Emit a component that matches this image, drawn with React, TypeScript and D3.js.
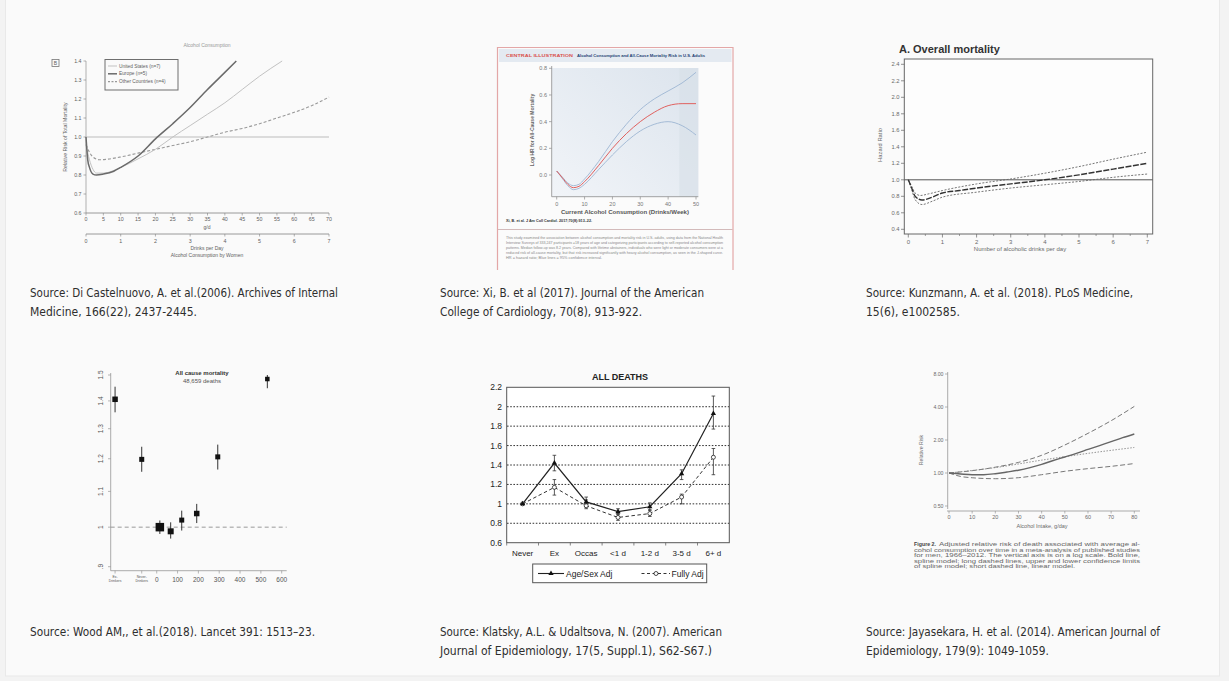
import React from 'react';
import * as d3 from 'd3';

type P = [number, number];

// ---- Di Castelnuovo et al. 2006 (g/d vs relative risk, women)
const dcUS: P[] = [[0, 0.96], [1, 0.88], [2, 0.83], [3, 0.81], [5, 0.81], [10, 0.84], [15, 0.885], [20, 0.935], [25, 1.0], [30, 1.06], [35, 1.12], [40, 1.18], [45, 1.25], [50, 1.32], [56.5, 1.4]];
const dcEurope: P[] = [[0, 1.0], [0.5, 0.88], [1, 0.84], [2, 0.805], [3, 0.8], [5, 0.805], [8, 0.82], [10, 0.84], [15, 0.9], [20, 0.99], [25, 1.07], [30, 1.155], [35, 1.25], [40, 1.34], [43.3, 1.4]];
const dcOther: P[] = [[0, 0.96], [1, 0.92], [2, 0.895], [4, 0.88], [6, 0.883], [10, 0.895], [15, 0.915], [20, 0.935], [25, 0.955], [30, 0.975], [35, 1.0], [40, 1.025], [45, 1.045], [50, 1.07], [55, 1.1], [60, 1.13], [65, 1.165], [70, 1.21]];
const dcYTicks = [0.6, 0.7, 0.8, 0.9, 1.0, 1.1, 1.2, 1.3, 1.4];
const dcGTicks = [0, 5, 10, 15, 20, 25, 30, 35, 40, 45, 50, 55, 60, 65, 70];
const dcDrinkTicks = [0, 1, 2, 3, 4, 5, 6, 7];
const dcLegend = ['United States (n=7)', 'Europe (n=5)', 'Other Countries (n=4)'];

// ---- Xi et al. 2017 (drinks/week vs log HR)
const xiCenter: P[] = [[0, 0.03], [2, -0.02], [4, -0.07], [6, -0.095], [8, -0.085], [10, -0.05], [15, 0.07], [20, 0.2], [25, 0.31], [30, 0.4], [35, 0.47], [40, 0.52], [45, 0.535], [50, 0.535]];
const xiUpper: P[] = [[0, 0.03], [2, -0.015], [4, -0.06], [6, -0.08], [8, -0.07], [10, -0.03], [15, 0.1], [20, 0.25], [25, 0.38], [30, 0.49], [35, 0.57], [40, 0.63], [45, 0.69], [50, 0.77]];
const xiLower: P[] = [[0, 0.03], [2, -0.025], [4, -0.08], [6, -0.11], [8, -0.1], [10, -0.07], [15, 0.04], [20, 0.15], [25, 0.25], [30, 0.33], [35, 0.38], [40, 0.4], [45, 0.37], [50, 0.3]];
const xiYTicks = [0.0, 0.2, 0.4, 0.6, 0.8];
const xiXTicks = [0, 10, 20, 30, 40, 50];
const xiShadeFrom = 44;
const xiParagraph = [
  'This study examined the association between alcohol consumption and mortality risk in U.S. adults, using data from the National Health',
  'Interview Surveys of 333,247 participants \u226518 years of age and categorizing participants according to self-reported alcohol consumption',
  'patterns. Median follow-up was 8.2 years. Compared with lifetime abstainers, individuals who were light or moderate consumers were at a',
  'reduced risk of all-cause mortality, but that risk increased significantly with heavy alcohol consumption, as seen in the J-shaped curve.',
  'HR = hazard ratio; Blue lines = 95% confidence interval.',
];

// ---- Kunzmann et al. 2018 (drinks/day vs hazard ratio)
const kzCenter: P[] = [[0, 1.0], [0.1, 0.9], [0.2, 0.8], [0.4, 0.755], [0.7, 0.79], [1, 0.84], [1.5, 0.87], [2, 0.9], [3, 0.95], [4, 1.0], [5, 1.06], [6, 1.13], [7, 1.2]];
const kzUpper: P[] = [[0, 1.0], [0.1, 0.92], [0.2, 0.84], [0.35, 0.81], [0.6, 0.83], [1, 0.87], [2, 0.95], [3, 1.01], [4, 1.08], [5, 1.16], [6, 1.25], [7, 1.335]];
const kzLower: P[] = [[0, 1.0], [0.1, 0.88], [0.2, 0.76], [0.4, 0.7], [0.7, 0.74], [1, 0.79], [2, 0.85], [3, 0.9], [4, 0.94], [5, 0.98], [6, 1.03], [7, 1.07]];
const kzYTicks = [0.4, 0.6, 0.8, 1.0, 1.2, 1.4, 1.6, 1.8, 2.0, 2.2, 2.4];
const kzXTicks = [0, 1, 2, 3, 4, 5, 6, 7];

// ---- Wood et al. 2018 (g/week vs HR, log scale)
const woodLabels = ['Ex', 'Never', '15', '67', '120', '192', '293', '531'];
const woodX = [-200, -72, 15, 67, 120, 192, 293, 531];
const woodHR = [1.406, 1.198, 1.0, 0.989, 1.019, 1.037, 1.206, 1.484];
const woodLo = [1.358, 1.159, 0.982, 0.97, 0.991, 1.011, 1.166, 1.448];
const woodHi = [1.454, 1.239, 1.018, 1.013, 1.045, 1.064, 1.246, 1.5];
const woodWeight = [5.5, 5, 8.5, 6, 5, 5.5, 5, 4.5];
const woodYTicks = [0.9, 1, 1.1, 1.2, 1.3, 1.4, 1.5];
const woodXTicks = [0, 100, 200, 300, 400, 500, 600];

// ---- Klatsky & Udaltsova 2007 (category vs RR)
const klCats = ['Never', 'Ex', 'Occas', '<1 d', '1-2 d', '3-5 d', '6+ d'];
const klAge = [1.0, 1.42, 1.02, 0.92, 0.97, 1.31, 1.93];
const klAgeLo = [1.0, 1.34, 0.97, 0.89, 0.93, 1.25, 1.77];
const klAgeHi = [1.0, 1.5, 1.07, 0.95, 1.01, 1.35, 2.11];
const klFull = [1.0, 1.17, 0.98, 0.86, 0.9, 1.07, 1.48];
const klFullLo = [1.0, 1.09, 0.95, 0.83, 0.87, 1.0, 1.3];
const klFullHi = [1.0, 1.25, 1.04, 0.9, 0.94, 1.1, 1.57];
const klYTicks = [0.6, 0.8, 1, 1.2, 1.4, 1.6, 1.8, 2, 2.2];
const klGrid = [0.8, 1, 1.2, 1.4, 1.6, 1.8, 2];

// ---- Jayasekara et al. 2014 (g/day vs RR, log scale)
const jaSpline: P[] = [[0, 1], [5, 0.98], [10, 0.965], [15, 0.965], [20, 0.985], [25, 1.02], [30, 1.06], [35, 1.12], [40, 1.2], [45, 1.3], [50, 1.4], [55, 1.51], [60, 1.64], [65, 1.78], [70, 1.93], [75, 2.1], [80, 2.27]];
const jaUpper: P[] = [[0, 1], [10, 1.05], [20, 1.13], [30, 1.25], [40, 1.45], [50, 1.8], [60, 2.3], [70, 3.0], [80, 4.05]];
const jaLower: P[] = [[0, 1], [5, 0.93], [10, 0.905], [20, 0.887], [30, 0.906], [40, 0.965], [50, 1.036], [60, 1.096], [70, 1.15], [80, 1.22]];
const jaLinear: P[] = [[0, 1], [20, 1.12], [40, 1.31], [60, 1.51], [80, 1.71]];
const jaYTicks = [0.5, 1, 2, 4, 8];
const jaXTicks = [0, 10, 20, 30, 40, 50, 60, 70, 80];
const jaCaption = [
  'Adjusted relative risk of death associated with average al-',
  'cohol consumption over time in a meta-analysis of published studies',
  'for men, 1966\u20132012. The vertical axis is on a log scale. Bold line,',
  'spline model; long dashed lines, upper and lower confidence limits',
  'of spline model; short dashed line, linear model.',
];

// ---- source notes
const sourceTop = [
  ['Source: Di Castelnuovo, A. et al.(2006). Archives of Internal', 'Medicine, 166(22), 2437-2445.'],
  ['Source: Xi, B. et al (2017). Journal of the American', 'College of Cardiology, 70(8), 913-922.'],
  ['Source: Kunzmann, A. et al. (2018). PLoS Medicine,', '15(6), e1002585.'],
];
const sourceBottom = [
  ['Source: Wood AM,, et al.(2018). Lancet 391: 1513\u201323.'],
  ['Source: Klatsky, A.L. & Udaltsova, N. (2007).  American', 'Journal of Epidemiology, 17(5, Suppl.1), S62-S67.)'],
  ['Source: Jayasekara, H. et al. (2014). American Journal of', 'Epidemiology, 179(9): 1049-1059.'],
];

const SANS = "'Liberation Sans', Arial, Helvetica, sans-serif";
const NARROW = "'Liberation Sans Narrow', 'DejaVu Sans Condensed', 'Liberation Sans', sans-serif";

const path = (pts: P[], x: (v: number) => number, y: (v: number) => number, curve: d3.CurveFactory = d3.curveMonotoneX) =>
  d3.line<P>().x(d => x(d[0])).y(d => y(d[1])).curve(curve)(pts) || '';

function DiCastelnuovo() {
  const x = d3.scaleLinear().domain([0, 70]).range([86, 329]);
  const y = d3.scaleLinear().domain([0.6, 1.4]).range([213, 61]);
  const ax = '#808080';
  return (
    <g fontFamily={SANS} fill="#5e5e5e">
      <text x={207} y={47} fontSize={5} textAnchor="middle" fill="#999">Alcohol Consumption</text>
      <rect x={52} y={59.5} width={7} height={7} fill="none" stroke="#777" strokeWidth={0.8} />
      <text x={55.5} y={64.8} fontSize={5} textAnchor="middle">B</text>
      <line x1={86} x2={86} y1={61} y2={213} stroke={ax} strokeWidth={0.6} />
      <line x1={86} x2={329} y1={213} y2={213} stroke={ax} strokeWidth={0.8} />
      {dcYTicks.map(t => (
        <g key={t}>
          <line x1={83.5} x2={86} y1={y(t)} y2={y(t)} stroke={ax} strokeWidth={0.6} />
          <text x={81.5} y={y(t) + 1.8} fontSize={5.3} textAnchor="end">{t.toFixed(1)}</text>
        </g>
      ))}
      {dcGTicks.map(t => (
        <g key={t}>
          <line x1={x(t)} x2={x(t)} y1={213} y2={215.5} stroke={ax} strokeWidth={0.6} />
          <text x={x(t)} y={220.5} fontSize={5.3} textAnchor="middle">{t}</text>
        </g>
      ))}
      <text x={207} y={228.5} fontSize={5} textAnchor="middle">g/d</text>
      <line x1={86} x2={329} y1={234} y2={234} stroke={ax} strokeWidth={0.8} />
      {dcDrinkTicks.map(t => (
        <g key={t}>
          <line x1={x(t * 10)} x2={x(t * 10)} y1={234} y2={236.5} stroke={ax} strokeWidth={0.6} />
          <text x={x(t * 10)} y={242.5} fontSize={5.3} textAnchor="middle">{t}</text>
        </g>
      ))}
      <text x={207} y={250} fontSize={5} textAnchor="middle">Drinks per Day</text>
      <text x={207} y={257} fontSize={5} textAnchor="middle">Alcohol Consumption by Women</text>
      <text transform="translate(67,137) rotate(-90)" fontSize={5.2} textAnchor="middle">Relative Risk of Total Mortality</text>
      <line x1={86} x2={329} y1={y(1)} y2={y(1)} stroke="#b5b5b5" strokeWidth={0.9} />
      <path d={path(dcOther, x, y)} fill="none" stroke="#999" strokeWidth={1.1} strokeDasharray="3,2" />
      <path d={path(dcUS, x, y)} fill="none" stroke="#c2c2c2" strokeWidth={1} />
      <path d={path(dcEurope, x, y)} fill="none" stroke="#6a6a6a" strokeWidth={1.5} />
      <rect x={105} y={59.5} width={73} height={30.5} fill="#fafafa" stroke="#6e6e6e" strokeWidth={1} />
      {dcLegend.map((l, i) => (
        <g key={l}>
          <line x1={108} x2={117} y1={66 + i * 7.8} y2={66 + i * 7.8}
            stroke={['#c2c2c2', '#6a6a6a', '#999'][i]} strokeWidth={[1, 1.5, 1.1][i]} strokeDasharray={i === 2 ? '2,1.5' : undefined} />
          <text x={119} y={67.6 + i * 7.8} fontSize={4.8}>{l}</text>
        </g>
      ))}
    </g>
  );
}

function Xi() {
  const x = d3.scaleLinear().domain([0, 50]).range([556.7, 696]);
  const y = d3.scaleLinear().domain([0, 0.8]).range([175, 68.3]);
  const ax = '#8c8c8c';
  return (
    <g fontFamily={SANS}>
      <defs>
        <linearGradient id="xiBg" x1="0" y1="1" x2="1" y2="0">
          <stop offset="0" stopColor="#f1f4f8" />
          <stop offset="1" stopColor="#dce4ed" />
        </linearGradient>
      </defs>
      <rect x={497.5} y={47.5} width={235.5} height={222} fill="#fbfbfb" />
      <path d="M497.5,270 V47.5 H733 V270" fill="none" stroke="#e3a7a7" strokeWidth={1.2} />
      <rect x={499} y={49} width={232.5} height={13} fill="#e4eaf1" />
      <text x={506} y={56.8} fontSize={4.2} fontWeight="bold" fill="#d9534f" textLength={67} lengthAdjust="spacingAndGlyphs">CENTRAL ILLUSTRATION</text>
      <text x={577} y={56.8} fontSize={4.2} fontWeight="bold" fill="#1f3f73" textLength={128} lengthAdjust="spacingAndGlyphs">Alcohol Consumption and All-Cause Mortality Risk in U.S. Adults</text>
      <rect x={551.7} y={68} width={146.6} height={128.7} fill="url(#xiBg)" />
      <rect x={x(xiShadeFrom)} y={68} width={698.3 - x(xiShadeFrom)} height={128.7} fill="#d7dfe8" opacity={0.6} />
      <line x1={551.7} x2={551.7} y1={66} y2={196.7} stroke={ax} strokeWidth={0.8} />
      <line x1={551.7} x2={698.3} y1={196.7} y2={196.7} stroke={ax} strokeWidth={0.8} />
      {xiYTicks.map(t => (
        <g key={t}>
          <line x1={549} x2={551.7} y1={y(t)} y2={y(t)} stroke={ax} strokeWidth={0.7} />
          <text x={547} y={y(t) + 2} fontSize={5.5} textAnchor="end" fill="#777">{t.toFixed(1)}</text>
        </g>
      ))}
      {xiXTicks.map(t => (
        <g key={t}>
          <line x1={x(t)} x2={x(t)} y1={196.7} y2={199.5} stroke={ax} strokeWidth={0.7} />
          <text x={x(t)} y={205.5} fontSize={5.5} textAnchor="middle" fill="#777">{t}</text>
        </g>
      ))}
      <text transform="translate(534,130) rotate(-90)" fontSize={5} fontWeight="bold" textAnchor="middle" fill="#666">Log HR for All-Cause Mortality</text>
      <text x={625} y={214} fontSize={5.4} fontWeight="bold" textAnchor="middle" fill="#555" textLength={128} lengthAdjust="spacingAndGlyphs">Current Alcohol Consumption (Drinks/Week)</text>
      <path d={path(xiUpper, x, y)} fill="none" stroke="#9db6d2" strokeWidth={0.9} />
      <path d={path(xiLower, x, y)} fill="none" stroke="#9db6d2" strokeWidth={0.9} />
      <path d={path(xiCenter, x, y)} fill="none" stroke="#e0615f" strokeWidth={1} />
      <text x={506} y={222} fontSize={3.8} fontWeight="bold" fill="#333" textLength={86} lengthAdjust="spacingAndGlyphs">Xi, B. et al. J Am Coll Cardiol. 2017;70(8):913–22.</text>
      <line x1={498} x2={732.5} y1={229.5} y2={229.5} stroke="#c9a9a9" strokeWidth={0.8} />
      {xiParagraph.map((l, i) => (
        <text key={i} x={506} y={239 + i * 5} fontSize={3.3} fill="#888"
          textLength={i === 4 ? 96 : 217} lengthAdjust="spacingAndGlyphs">{l}</text>
      ))}
    </g>
  );
}

function Kunzmann() {
  const x = d3.scaleLinear().domain([0, 7]).range([908.3, 1147.3]);
  const y = d3.scaleLinear().domain([0.4, 2.4]).range([229.3, 64.3]);
  const ax = '#666';
  const minor = d3.range(0.5, 7, 1);
  return (
    <g fontFamily={SANS} fill="#6a6a6a">
      <text x={899} y={53} fontSize={11} fontWeight="bold" fill="#333">A. Overall mortality</text>
      <rect x={904.3} y={59} width={248.4} height={175} fill="#fdfdfd" stroke={ax} strokeWidth={1} />
      {kzYTicks.map(t => (
        <g key={t}>
          <line x1={901} x2={904.3} y1={y(t)} y2={y(t)} stroke={ax} strokeWidth={0.7} />
          <text x={899.5} y={y(t) + 2} fontSize={5.8} textAnchor="end">{t.toFixed(1)}</text>
        </g>
      ))}
      {kzXTicks.map(t => (
        <g key={t}>
          <line x1={x(t)} x2={x(t)} y1={234} y2={237.5} stroke={ax} strokeWidth={0.7} />
          <text x={x(t)} y={244} fontSize={6} textAnchor="middle">{t}</text>
        </g>
      ))}
      {minor.map(t => (
        <line key={t} x1={x(t)} x2={x(t)} y1={234} y2={236} stroke={ax} strokeWidth={0.6} />
      ))}
      <text x={1020} y={250.5} fontSize={6} textAnchor="middle">Number of alcoholic drinks per day</text>
      <text transform="translate(882,145) rotate(-90)" fontSize={5.8} textAnchor="middle">Hazard Ratio</text>
      <line x1={904.3} x2={1152.7} y1={y(1)} y2={y(1)} stroke="#555" strokeWidth={1} />
      <path d={path(kzUpper, x, y)} fill="none" stroke="#666" strokeWidth={0.9} strokeDasharray="2,1.5" />
      <path d={path(kzLower, x, y)} fill="none" stroke="#666" strokeWidth={0.9} strokeDasharray="2,1.5" />
      <path d={path(kzCenter, x, y)} fill="none" stroke="#333" strokeWidth={1.4} strokeDasharray="6,1.5" />
    </g>
  );
}

function Wood() {
  const x = d3.scaleLinear().domain([-221, 624]).range([110.7, 286.7]);
  const y = d3.scaleLog().domain([0.9, 1.5]).range([566.7, 375]);
  const ax = '#888';
  return (
    <g fontFamily={SANS} fill="#555">
      <text x={202} y={375} fontSize={6} fontWeight="bold" textAnchor="middle" fill="#333">All cause mortality</text>
      <text x={202} y={383} fontSize={6} textAnchor="middle">48,659 deaths</text>
      <line x1={110.7} x2={110.7} y1={373} y2={570.7} stroke={ax} strokeWidth={0.7} />
      <line x1={110.7} x2={286.7} y1={570.7} y2={570.7} stroke={ax} strokeWidth={0.7} />
      {woodYTicks.map(t => (
        <g key={t}>
          <line x1={108} x2={110.7} y1={y(t)} y2={y(t)} stroke={ax} strokeWidth={0.6} />
          <text transform={`translate(102.5,${y(t)}) rotate(-90)`} fontSize={6.5} textAnchor="middle">{t === 0.9 ? '.9' : String(t)}</text>
        </g>
      ))}
      {woodXTicks.map(t => (
        <g key={t}>
          <line x1={x(t)} x2={x(t)} y1={570.7} y2={573.5} stroke={ax} strokeWidth={0.6} />
          <text x={x(t)} y={581.5} fontSize={6.5} textAnchor="middle">{t}</text>
        </g>
      ))}
      {[0, 1].map(i => (
        <g key={i}>
          <line x1={x(woodX[i])} x2={x(woodX[i])} y1={570.7} y2={573.5} stroke={ax} strokeWidth={0.6} />
          <text x={x(woodX[i])} y={578} fontSize={3.4} textAnchor="middle">{woodLabels[i]}-</text>
          <text x={x(woodX[i])} y={582.2} fontSize={3.4} textAnchor="middle">Drinkers</text>
        </g>
      ))}
      <line x1={110.7} x2={286.7} y1={y(1)} y2={y(1)} stroke="#9a9a9a" strokeWidth={1} strokeDasharray="4,3" />
      {woodX.map((v, i) => {
        const s = woodWeight[i];
        return (
          <g key={i}>
            <line x1={x(v)} x2={x(v)} y1={y(woodLo[i])} y2={y(woodHi[i])} stroke="#333" strokeWidth={1} />
            <rect x={x(v) - s / 2} y={y(woodHR[i]) - s / 2} width={s} height={s} fill="#111" />
          </g>
        );
      })}
    </g>
  );
}

function Klatsky() {
  const band = d3.scaleBand().domain(klCats).range([506.7, 729.3]);
  const cx = (c: string) => (band(c) || 0) + band.bandwidth() / 2;
  const y = d3.scaleLinear().domain([0.6, 2.2]).range([542.7, 387.3]);
  const pts = (v: number[]): P[] => klCats.map((_, i) => [i, v[i]]);
  const xi = (i: number) => cx(klCats[i]);
  const tri = d3.symbol().type(d3.symbolTriangle).size(12)() || '';
  const errBars = (lo: number[], hi: number[], key: string) => klCats.map((c, i) => (
    lo[i] === hi[i] ? null : (
      <g key={key + c} stroke="#333" strokeWidth={0.8}>
        <line x1={cx(c)} x2={cx(c)} y1={y(lo[i])} y2={y(hi[i])} />
        <line x1={cx(c) - 1.8} x2={cx(c) + 1.8} y1={y(lo[i])} y2={y(lo[i])} />
        <line x1={cx(c) - 1.8} x2={cx(c) + 1.8} y1={y(hi[i])} y2={y(hi[i])} />
      </g>
    )
  ));
  return (
    <g fontFamily={SANS} fill="#222">
      <text x={620} y={380} fontSize={9} fontWeight="bold" textAnchor="middle">ALL DEATHS</text>
      <rect x={506.7} y={387.3} width={222.6} height={155.4} fill="#fff" stroke="#555" strokeWidth={1} />
      {klGrid.map(t => (
        <line key={t} x1={507} x2={729} y1={y(t)} y2={y(t)} stroke="#333" strokeWidth={1} strokeDasharray="1.6,1.6" />
      ))}
      {klYTicks.map(t => (
        <text key={t} x={502} y={y(t) + 3} fontSize={8.5} textAnchor="end">{String(t)}</text>
      ))}
      {klCats.map(c => (
        <g key={c}>
          <line x1={band(c)} x2={band(c)} y1={542.7} y2={545.5} stroke="#555" strokeWidth={0.7} />
          <text x={cx(c)} y={556} fontSize={8} textAnchor="middle">{c}</text>
        </g>
      ))}
      {errBars(klFullLo, klFullHi, 'f')}
      {errBars(klAgeLo, klAgeHi, 'a')}
      <path d={path(pts(klFull), xi, y, d3.curveLinear)} fill="none" stroke="#333" strokeWidth={1} strokeDasharray="3.5,2.5" />
      <path d={path(pts(klAge), xi, y, d3.curveLinear)} fill="none" stroke="#222" strokeWidth={1.2} />
      {klCats.map((c, i) => (
        <circle key={'c' + c} cx={cx(c)} cy={y(klFull[i])} r={2} fill="#fff" stroke="#222" strokeWidth={0.8} />
      ))}
      {klCats.map((c, i) => (
        <path key={'t' + c} d={tri} transform={`translate(${cx(c)},${y(klAge[i])})`} fill="#111" />
      ))}
      <rect x={532.7} y={564} width={174} height={18.7} fill="#fff" stroke="#555" strokeWidth={1} />
      <line x1={538} x2={564} y1={573.5} y2={573.5} stroke="#222" strokeWidth={1.1} />
      <path d={tri} transform="translate(551,573.5)" fill="#111" />
      <text x={566} y={576.5} fontSize={8.5}>Age/Sex Adj</text>
      <line x1={641.5} x2={670} y1={573.5} y2={573.5} stroke="#333" strokeWidth={1} strokeDasharray="3,2.5" />
      <circle cx={656} cy={573.5} r={2} fill="#fff" stroke="#222" strokeWidth={0.8} />
      <text x={671.5} y={576.5} fontSize={8.5}>Fully Adj</text>
    </g>
  );
}

function Jayasekara() {
  const x = d3.scaleLinear().domain([0, 80]).range([949, 1134.3]);
  const y = d3.scaleLog().base(2).domain([0.5, 8]).range([506, 374]);
  const ax = '#888';
  return (
    <g fontFamily={SANS} fill="#6a6a6a">
      <line x1={947.7} x2={947.7} y1={372} y2={509} stroke={ax} strokeWidth={0.7} />
      <line x1={947} x2={1140} y1={511} y2={511} stroke={ax} strokeWidth={0.7} />
      {jaYTicks.map(t => (
        <g key={t}>
          <line x1={945} x2={947.7} y1={y(t)} y2={y(t)} stroke={ax} strokeWidth={0.6} />
          <text x={943.5} y={y(t) + 1.8} fontSize={5.2} textAnchor="end">{t.toFixed(2)}</text>
        </g>
      ))}
      {jaXTicks.map(t => (
        <g key={t}>
          <line x1={x(t)} x2={x(t)} y1={511} y2={513.5} stroke={ax} strokeWidth={0.6} />
          <text x={x(t)} y={519} fontSize={5.5} textAnchor="middle">{t}</text>
        </g>
      ))}
      <text x={1042} y={527.5} fontSize={5.5} textAnchor="middle">Alcohol Intake, g/day</text>
      <text transform="translate(923,450) rotate(-90)" fontSize={5.2} textAnchor="middle">Relative Risk</text>
      <path d={path(jaUpper, x, y)} fill="none" stroke="#777" strokeWidth={1} strokeDasharray="5,2.5" />
      <path d={path(jaLower, x, y)} fill="none" stroke="#777" strokeWidth={1} strokeDasharray="5,2.5" />
      <path d={path(jaLinear, x, y)} fill="none" stroke="#888" strokeWidth={0.9} strokeDasharray="1.5,1.5" />
      <path d={path(jaSpline, x, y)} fill="none" stroke="#666" strokeWidth={1.4} />
      <text x={914} y={546} fontSize={5.4} fontWeight="bold" fill="#444" textLength={22} lengthAdjust="spacingAndGlyphs">Figure 2.</text>
      {jaCaption.map((l, i) => (
        <text key={i} x={i === 0 ? 939 : 914} y={546 + i * 5.6} fontSize={5.4} fill="#666"
          textLength={[201, 226, 226, 226, 161][i]} lengthAdjust="spacingAndGlyphs">{l}</text>
      ))}
    </g>
  );
}

function Sources() {
  const colX = [30, 440, 866];
  const topW = [[308, 167], [264, 202], [267, 94]];
  const botW = [[285], [282, 272], [294, 183]];
  const block = (rows: string[][], widths: number[][], y0: number) => rows.map((lines, c) => lines.map((l, i) => (
    <text key={`${y0}-${c}-${i}`} x={colX[c]} y={y0 + i * 19} fontSize={12.5} fill="#2e2e2e"
      textLength={widths[c][i]} lengthAdjust="spacingAndGlyphs">{l}</text>
  )));
  return (
    <g fontFamily={NARROW}>
      {block(sourceTop, topW, 296.5)}
      {block(sourceBottom, botW, 635.5)}
    </g>
  );
}

export default function App() {
  return (
    <svg width={1229} height={681} viewBox="0 0 1229 681" style={{ position: 'absolute', left: 0, top: 0 }}>
      <rect width={1229} height={681} fill="#f3f3f3" />
      <rect x={5.5} y={-1} width={1214} height={677} fill="#fafafa" stroke="#e9e9e9" />
      <DiCastelnuovo />
      <Xi />
      <Kunzmann />
      <Wood />
      <Klatsky />
      <Jayasekara />
      <Sources />
    </svg>
  );
}
